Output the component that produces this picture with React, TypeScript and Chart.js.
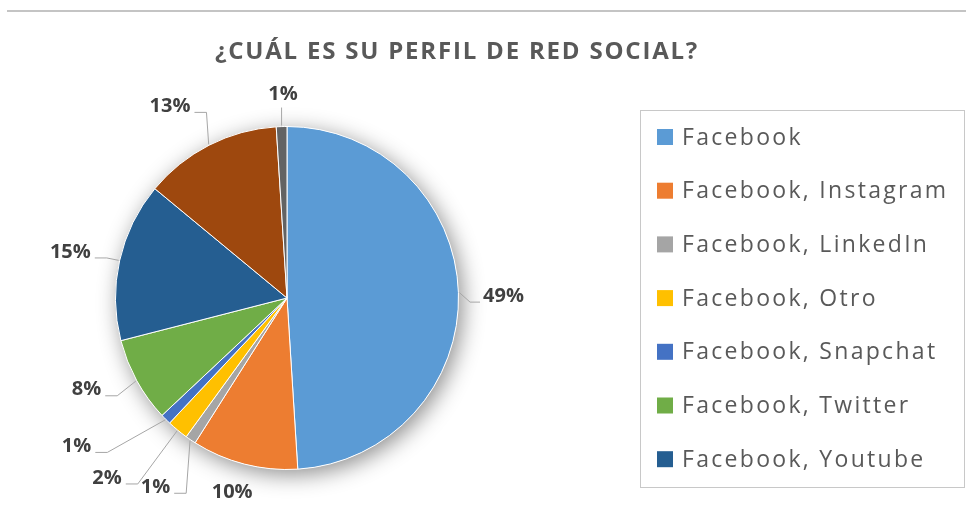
import React, { useEffect, useRef } from "react";
import { Chart, registerables } from "chart.js";
Chart.register(...registerables);

const titleText = "¿CUÁL ES SU PERFIL DE RED SOCIAL?";
const categories = [
  "Facebook",
  "Facebook, Instagram",
  "Facebook, LinkedIn",
  "Facebook, Otro",
  "Facebook, Snapchat",
  "Facebook, Twitter",
  "Facebook, Youtube",
  "Instagram",
  "Otro",
];
const shares = [49, 10, 1, 2, 1, 8, 15, 13, 1];
const colors = ["#5B9BD5", "#ED7D31", "#A5A5A5", "#FFC000", "#4472C4", "#70AD47", "#255E91", "#9E480E", "#636363"];
const legendCount = 7;

// label placement styling (distance beyond the rim in px, angular nudge in degrees)
const labelDist = [45, 30, 59, 83, 86, 49, 50, 53, 32];
const labelDelta = [1.3, 1.4, 0.6, 5.4, 9.8, 4.2, -0.6, -4.4, 0.7];
const leaderMode = ["side", "none", "side", "side", "side", "side", "side", "side", "up"];

const decor = {
  id: "decor",
  beforeDatasetsDraw(chart: any) {
    const a: any = chart.getDatasetMeta(0).data[0];
    if (!a) return;
    const ctx = chart.ctx;
    ctx.save();
    ctx.shadowColor = "rgba(0,0,0,0.45)";
    ctx.shadowBlur = 22;
    ctx.shadowOffsetX = 4;
    ctx.shadowOffsetY = 5;
    ctx.beginPath();
    ctx.arc(a.x, a.y, a.outerRadius, 0, Math.PI * 2);
    ctx.fillStyle = "#ffffff";
    ctx.fill();
    ctx.restore();
  },
  afterDraw(chart: any) {
    const ctx = chart.ctx;
    ctx.save();
    // top rule
    ctx.fillStyle = "#c4c4c4";
    ctx.fillRect(7, 10, 959, 2);

    // title
    ctx.fillStyle = "#595959";
    ctx.font = "bold 24px 'Open Sans'";
    (ctx as any).letterSpacing = "1.8px";
    ctx.textAlign = "center";
    ctx.textBaseline = "middle";
    ctx.fillText(titleText, 457, 52.5);
    (ctx as any).letterSpacing = "0px";

    // data labels
    const meta = chart.getDatasetMeta(0);
    const data = chart.data.datasets[0].data as number[];
    ctx.font = "bold 20px 'Open Sans'";
    meta.data.forEach((arc: any, i: number) => {
      const mid = (arc.startAngle + arc.endAngle) / 2;
      const la = mid + (labelDelta[i] * Math.PI) / 180;
      const R = arc.outerRadius + labelDist[i];
      const tx = arc.x + R * Math.cos(la);
      const ty = arc.y + R * Math.sin(la);
      const txt = data[i] + "%";
      const w = ctx.measureText(txt).width;
      ctx.fillStyle = "#404040";
      ctx.textAlign = "center";
      ctx.textBaseline = "middle";
      ctx.fillText(txt, tx, ty);
      const px = arc.x + (arc.outerRadius + 1) * Math.cos(mid);
      const py = arc.y + (arc.outerRadius + 1) * Math.sin(mid);
      ctx.strokeStyle = "#a6a6a6";
      ctx.lineWidth = 1;
      if (leaderMode[i] === "side") {
        const right = tx > arc.x;
        const ex = right ? tx - w / 2 - 3 : tx + w / 2 + 4;
        const ey = ty + 6;
        const elx = right ? ex - 10 : ex + 12;
        ctx.beginPath();
        ctx.moveTo(px, py);
        ctx.lineTo(elx, ey);
        ctx.lineTo(ex, ey);
        ctx.stroke();
      } else if (leaderMode[i] === "up") {
        ctx.beginPath();
        ctx.moveTo(px, py);
        ctx.lineTo(px, ty + 13);
        ctx.stroke();
      }
    });

    // legend
    ctx.strokeStyle = "#c8c8c8";
    ctx.lineWidth = 1;
    ctx.strokeRect(640.5, 110.5, 324, 377);
    ctx.font = "23px 'Open Sans'";
    (ctx as any).letterSpacing = "2.3px";
    ctx.textAlign = "left";
    ctx.textBaseline = "middle";
    const labels = chart.data.labels as string[];
    const bg = chart.data.datasets[0].backgroundColor as string[];
    for (let i = 0; i < legendCount; i++) {
      const y = 137 + i * 53.7;
      ctx.fillStyle = bg[i];
      ctx.fillRect(657, y - 8, 16, 16);
      ctx.fillStyle = "#595959";
      ctx.fillText(labels[i], 682, y + 1);
    }
    ctx.restore();
  },
};

export default function App() {
  const ref = useRef<HTMLCanvasElement>(null);
  useEffect(() => {
    if (!ref.current) return;
    const chart = new Chart(ref.current, {
      type: "pie",
      data: {
        labels: categories,
        datasets: [
          {
            data: shares,
            backgroundColor: colors,
            borderColor: "#ffffff",
            borderWidth: 1,
          },
        ],
      },
      options: {
        responsive: false,
        animation: false,
        layout: { padding: { left: 115, right: 507, top: 126, bottom: 48 } },
        plugins: {
          legend: { display: false },
          title: { display: false },
          tooltip: { enabled: false },
        },
      },
      plugins: [decor],
    });
    return () => chart.destroy();
  }, []);
  return (
    <div style={{ position: "fixed", left: 0, top: 0, width: 966, height: 518, background: "#fff" }}>
      <canvas ref={ref} width={966} height={518} style={{ display: "block" }} />
    </div>
  );
}
